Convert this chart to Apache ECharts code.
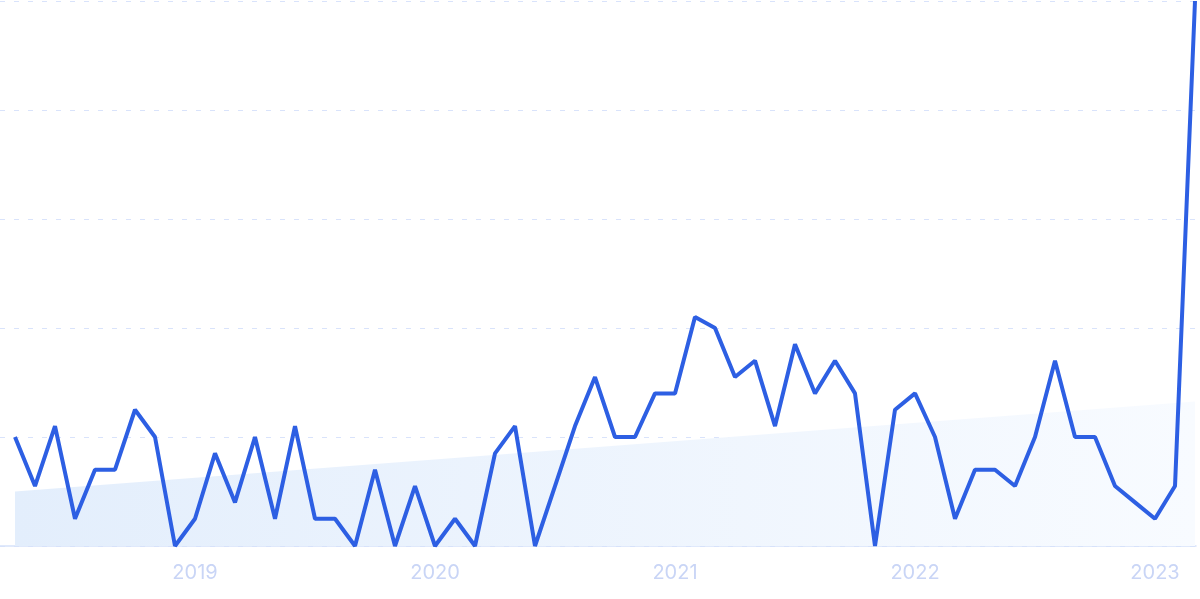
<!DOCTYPE html>
<html>
<head>
<meta charset="utf-8">
<script src="https://cdn.jsdelivr.net/npm/echarts@6/dist/echarts.min.js"></script>
<style>html,body{margin:0;padding:0;background:#fff;}#c{width:1200px;height:599px;}</style>
</head>
<body>
<div id="c"></div>
<script>
const months = [];
for (let y = 2018, m = 4; months.length < 60; ) {
  months.push(y + '-' + String(m).padStart(2, '0'));
  m++; if (m > 12) { m = 1; y++; }
}
const values = [20, 11, 22, 5, 14, 14, 25, 20, 0, 5, 17, 8, 20, 5, 22, 5, 5, 0, 14, 0,
  11, 0, 5, 0, 17, 22, 0, 11, 22, 31, 20, 20, 28, 28, 42, 40, 31, 34, 22, 37,
  28, 34, 28, 0, 25, 28, 20, 5, 14, 14, 11, 20, 34, 20, 20, 11, 8, 5, 11, 100];
const trendStart = 10;
const trendEnd = 26.5;
const yTicks = [0, 20, 40, 60, 80, 100];

const chart = echarts.init(document.getElementById('c'));
chart.setOption({
  animation: false,
  grid: [
    { left: 15, right: 5, top: 1, bottom: 53 },
    { left: 0, right: 4, top: 1, bottom: 53 }
  ],
  xAxis: [
    {
      gridIndex: 0, type: 'category', data: months, boundaryGap: false,
      axisLine: { show: false }, axisTick: { show: false },
      axisLabel: {
        interval: (i, v) => v.endsWith('-01'),
        formatter: v => v.slice(0, 4),
        color: '#c9d5f6', fontSize: 20, fontFamily: 'Inter', margin: 17
      },
      splitLine: { show: false }
    },
    {
      gridIndex: 1, type: 'category', data: ['a', 'b'],
      axisLine: { show: true, lineStyle: { color: '#d6e2fa', width: 1.5 } },
      axisTick: { show: false }, axisLabel: { show: false }, splitLine: { show: false }
    }
  ],
  yAxis: [
    {
      gridIndex: 0, type: 'value', min: yTicks[0], max: yTicks[yTicks.length - 1], interval: 20,
      axisLabel: { show: false }, axisLine: { show: false }, axisTick: { show: false },
      splitLine: { show: false }
    },
    {
      gridIndex: 1, type: 'value', min: yTicks[0], max: yTicks[yTicks.length - 1], interval: 20,
      axisLabel: { show: false }, axisLine: { show: false }, axisTick: { show: false },
      splitLine: { show: true, lineStyle: { color: '#d9e3fb', width: 1.2, type: [5, 9] } }
    }
  ],
  series: [
    {
      type: 'line', xAxisIndex: 0, yAxisIndex: 0,
      data: [[0, trendStart], [values.length - 1, trendEnd]],
      symbol: 'none', lineStyle: { width: 0 },
      areaStyle: {
        opacity: 1,
        color: new echarts.graphic.LinearGradient(0, 0, 1, 0, [
          { offset: 0, color: '#e3eefc' },
          { offset: 1, color: '#f8fbff' }
        ])
      },
      z: 1
    },
    {
      type: 'line', xAxisIndex: 0, yAxisIndex: 0, data: values,
      symbol: 'none', lineStyle: { color: '#2d5fe3', width: 4 },
      z: 3
    }
  ]
});
</script>
</body>
</html>
